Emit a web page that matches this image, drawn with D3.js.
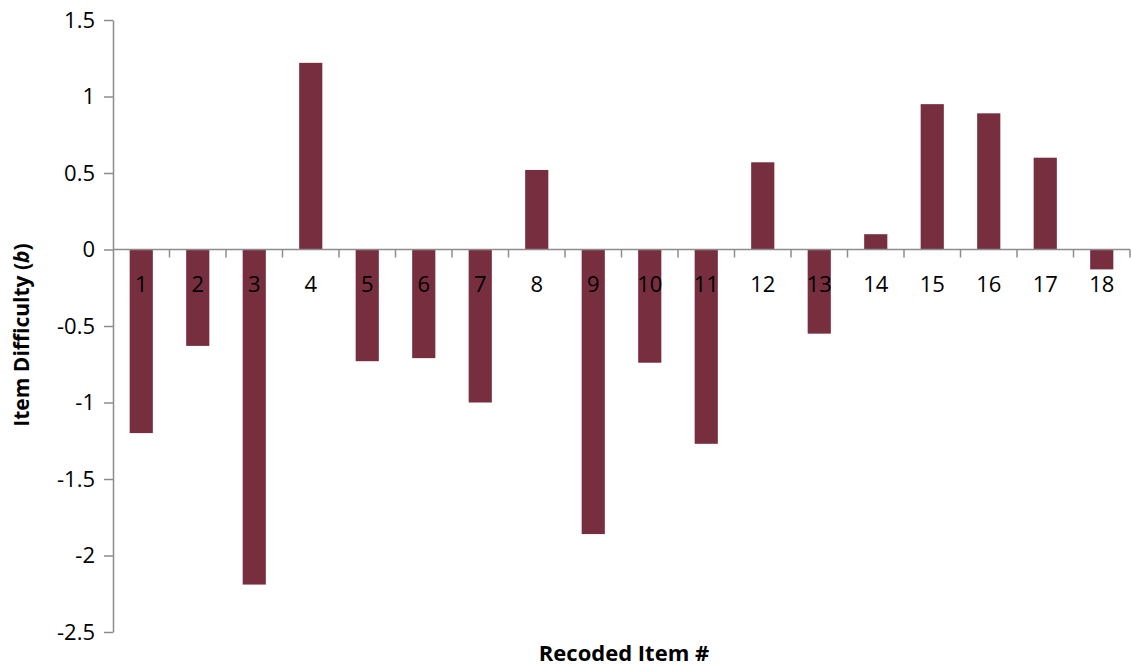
<!DOCTYPE html>
<html><head><meta charset="utf-8">
<script src="https://cdn.jsdelivr.net/npm/d3@7"></script>
<style>
html,body{margin:0;padding:0;background:#fff;}
svg{display:block;font-family:"Open Sans",sans-serif;}
</style></head>
<body>
<svg id="chart" width="1132" height="666"></svg>
<script>
const categories = ["1","2","3","4","5","6","7","8","9","10","11","12","13","14","15","16","17","18"];
const difficulty = [-1.20,-0.63,-2.19,1.22,-0.73,-0.71,-1.00,0.52,-1.86,-0.74,-1.27,0.57,-0.55,0.10,0.95,0.89,0.60,-0.13];
const yTicks = [-2.5,-2,-1.5,-1,-0.5,0,0.5,1,1.5];
const yTickLabels = ["-2.5","-2","-1.5","-1","-0.5","0","0.5","1","1.5"];

(function(){
const svg = d3.select("#chart");
const mLeft = 113, mRight = 1130, mTop = 20, mBottom = 632;
const axisColor = "#8c8c8c";

const x = d3.scaleBand().domain(categories).range([mLeft, mRight]).paddingInner(0.59).paddingOuter(0.295);
const y = d3.scaleLinear().domain([-2.5, 1.5]).range([mBottom, mTop]);

// bars
svg.append("g").selectAll("rect").data(difficulty).join("rect")
  .attr("x", (d,i) => x(categories[i]))
  .attr("width", x.bandwidth())
  .attr("y", d => y(Math.max(0,d)))
  .attr("height", d => Math.abs(y(d) - y(0)))
  .attr("fill", "#772f40");

// y axis
const yAxis = d3.axisLeft(y).tickValues(yTicks).tickFormat((d,i) => yTickLabels[i]).tickSize(9).tickSizeOuter(0).tickPadding(9);
const gy = svg.append("g").attr("transform", `translate(${mLeft},0)`).call(yAxis);
gy.select(".domain").attr("stroke", axisColor).attr("stroke-width", 1.5);
gy.selectAll(".tick line").attr("stroke", axisColor).attr("stroke-width", 1.5);
gy.selectAll(".tick text").attr("font-size", 22).attr("fill", "#000").attr("font-family", "Open Sans");

// x axis line at zero with boundary ticks
const boundaries = d3.range(categories.length + 1).map(i => mLeft + i * x.step());
svg.append("line").attr("x1", mLeft).attr("x2", mRight).attr("y1", y(0)).attr("y2", y(0))
  .attr("stroke", axisColor).attr("stroke-width", 1.5);
svg.append("g").selectAll("line").data(boundaries.slice(1)).join("line")
  .attr("x1", d => d).attr("x2", d => d).attr("y1", y(0)).attr("y2", y(0) + 8)
  .attr("stroke", axisColor).attr("stroke-width", 1.5);

// category labels
svg.append("g").selectAll("text").data(categories).join("text")
  .attr("x", d => x(d) + x.bandwidth()/2)
  .attr("y", y(0) + 42)
  .attr("text-anchor", "middle")
  .attr("font-size", 22)
  .attr("fill", "#000")
  .text(d => d);

// axis titles
svg.append("text").attr("x", 624).attr("y", 661).attr("text-anchor", "middle")
  .attr("font-size", 22).attr("font-weight", "bold").text("Recoded Item #");

const yt = svg.append("text").attr("transform", "translate(29,335) rotate(-90)")
  .attr("text-anchor", "middle").attr("font-size", 21).attr("font-weight", "bold");
yt.append("tspan").text("Item Difficulty (");
yt.append("tspan").attr("font-style", "italic").text("b");
yt.append("tspan").text(")");
})();
</script>
</body></html>
